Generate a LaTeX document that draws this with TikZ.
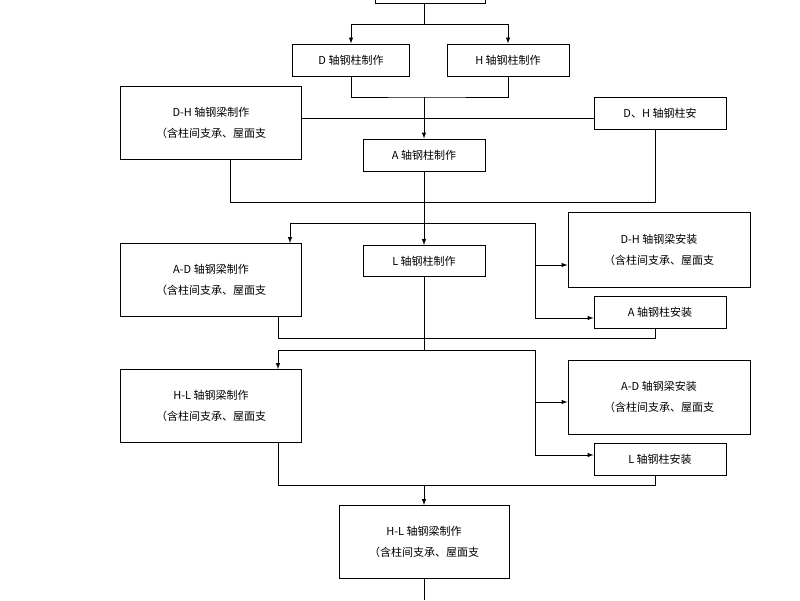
\documentclass[tikz,border=0pt]{standalone}
\usepackage{fontspec}
\newfontfamily\cjk{Noto Sans CJK SC}
\usetikzlibrary{arrows,calc}
\tikzstyle{box}=[draw, line width=1pt, inner sep=0pt, font=\cjk\fontsize{11}{21}\selectfont, align=center]
\tikzstyle{edge}=[line width=1pt, >=latex]
\begin{document}
\begin{tikzpicture}[x=1pt,y=-1pt]
    \useasboundingbox (0,0) rectangle (800,600);
    %%%%%  Boxes  %%%%%
    \node (top) [box, minimum width=110, minimum height=30] at (430,-12) {};
    \node (Dz)  [box, minimum width=117, minimum height=32] at (351,60) {D 轴钢柱制作};
    \node (Hz)  [box, minimum width=122, minimum height=32] at (508,60) {H 轴钢柱制作};
    \node (DHl) [box, minimum width=181, minimum height=73] at (211,123) {D-H 轴钢梁制作\\（含柱间支承、屋面支};
    \node (DHa) [box, minimum width=132, minimum height=32] at (660,113) {D、H 轴钢柱安};
    \node (Az)  [box, minimum width=122, minimum height=32] at (424,155) {A 轴钢柱制作};
    \node (ADl) [box, minimum width=181, minimum height=73] at (211,280) {A-D 轴钢梁制作\\（含柱间支承、屋面支};
    \node (Lz)  [box, minimum width=122, minimum height=31] at (424,261) {L 轴钢柱制作};
    \node (DHs) [box, minimum width=182, minimum height=75] at (659,250) {D-H 轴钢梁安装\\（含柱间支承、屋面支};
    \node (Aa)  [box, minimum width=132, minimum height=32] at (660,312) {A 轴钢柱安装};
    \node (HLl) [box, minimum width=181, minimum height=73] at (211,406) {H-L 轴钢梁制作\\（含柱间支承、屋面支};
    \node (ADs) [box, minimum width=182, minimum height=74] at (659,397) {A-D 轴钢梁安装\\（含柱间支承、屋面支};
    \node (La)  [box, minimum width=132, minimum height=32] at (660,459) {L 轴钢柱安装};
    \node (HLb) [box, minimum width=170, minimum height=73] at (424,542) {H-L 轴钢梁制作\\（含柱间支承、屋面支};
    \coordinate (end) at (424,600);

    %%%%%  Row 1  %%%%%
    \draw [edge] (424,3) -- (424,24);
    \draw [edge,->] (424,24) -| (Dz.north);
    \draw [edge,->] (424,24) -| (Hz.north);
    \draw [edge] (Dz.south) |- (424,97) -| (Hz.south);
    \draw [edge,->] (424,97) -- (Az.north);
    \draw [edge] (DHl.east |- 0,118) -- (DHa.west |- 0,118);
    \draw [edge] (DHl.south -| 230,0) |- (655,202) -- (DHa.south -| 655,0);

    %%%%%  Row 2  %%%%%
    \draw [edge] (Az.south) -- (424,223);
    \draw [edge,->] (290,223) -- (ADl.north -| 290,0);
    \draw [edge] (290,223) -- (535,223);
    \draw [edge,->] (424,223) -- (Lz.north);
    \draw [edge,->] (535,223) |- (DHs.west |- 0,265);
    \draw [edge,->] (535,265) |- (Aa.west |- 0,318);
    \draw [edge] (ADl.south -| 278,0) |- (655,338) -- (Aa.south -| 655,0);
    \draw [edge] (Lz.south) -- (424,350);

    %%%%%  Row 3  %%%%%
    \draw [edge,->] (278,350) -- (HLl.north -| 278,0);
    \draw [edge] (278,350) -- (535,350);
    \draw [edge,->] (535,350) |- (ADs.west |- 0,402);
    \draw [edge,->] (535,402) |- (La.west |- 0,455);
    \draw [edge] (HLl.south -| 278,0) |- (655,485) -- (La.south -| 655,0);
    \draw [edge,->] (424,485) -- (HLb.north);
    \draw [edge] (HLb.south) -- (end);
\end{tikzpicture}
\end{document}
